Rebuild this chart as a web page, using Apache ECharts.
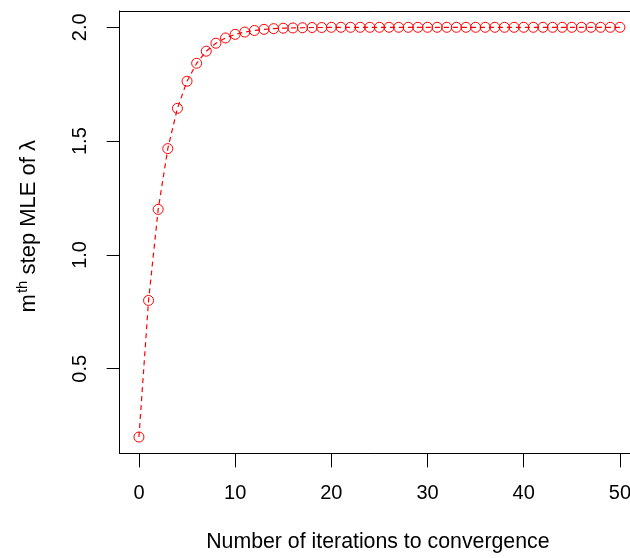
<!DOCTYPE html>
<html>
<head>
<meta charset="utf-8">
<script src="https://cdn.jsdelivr.net/npm/echarts@6/dist/echarts.min.js"></script>
<style>
  html, body { margin: 0; padding: 0; background: #fff; }
  #chart { width: 630px; height: 558px; }
</style>
</head>
<body>
<div id="chart"></div>
<script>
// iteration number m and the m-th step estimate of lambda
const iterations = [
  0, 1, 2, 3, 4, 5, 6, 7, 8, 9, 10, 11, 12, 13, 14, 15, 16, 17, 18, 19, 20,
  21, 22, 23, 24, 25, 26, 27, 28, 29, 30, 31, 32, 33, 34, 35, 36, 37, 38, 39, 40,
  41, 42, 43, 44, 45, 46, 47, 48, 49, 50
];
const estimates = [
  0.200, 0.800, 1.200, 1.467, 1.644, 1.763, 1.842, 1.895, 1.930, 1.953, 1.969,
  1.979, 1.986, 1.991, 1.994, 1.996, 1.997, 1.998, 1.999, 1.999, 2.000,
  2.000, 2.000, 2.000, 2.000, 2.000, 2.000, 2.000, 2.000, 2.000, 2.000,
  2.000, 2.000, 2.000, 2.000, 2.000, 2.000, 2.000, 2.000, 2.000, 2.000,
  2.000, 2.000, 2.000, 2.000, 2.000, 2.000, 2.000, 2.000, 2.000, 2.000
];
const xTicks = [0, 10, 20, 30, 40, 50];
const yTicks = [0.5, 1.0, 1.5, 2.0];

const font = 'Liberation Sans, Arial, Helvetica, sans-serif';
const chart = echarts.init(document.getElementById('chart'), null, { renderer: 'canvas' });

const points = iterations.map((m, i) => [m, estimates[i]]);
const black = { color: '#000', width: 1 };

chart.setOption({
  animation: false,
  backgroundColor: '#fff',
  // the plot box runs past the right edge of the picture, so only three sides show
  grid: {
    left: 119.7,
    top: 10.9,
    width: 510.3,
    height: 442.5,
    show: false,
    outerBoundsMode: 'none',
    containLabel: false
  },
  xAxis: [{
    type: 'value',
    min: -2,
    max: 51.05,
    name: 'Number of iterations to convergence',
    nameLocation: 'middle',
    nameGap: 78,
    nameTextStyle: { fontFamily: font, fontSize: 21.3, color: '#000', padding: [0, 0, 0, 6] },
    axisLine: { show: true, onZero: false, lineStyle: black },
    splitLine: { show: false },
    axisTick: {
      show: true,
      inside: false,
      length: 14,
      customValues: xTicks,
      lineStyle: black
    },
    axisLabel: {
      customValues: xTicks,
      margin: 30,
      fontFamily: font,
      fontSize: 20,
      color: '#000',
      hideOverlap: false
    }
  }, {
    type: 'value',
    position: 'top',
    min: -2,
    max: 51.05,
    axisLine: { show: true, onZero: false, lineStyle: black },
    axisTick: { show: false },
    axisLabel: { show: false },
    splitLine: { show: false }
  }],
  yAxis: {
    type: 'value',
    min: 0.128,
    max: 2.072,
    name: '{m|m}{sup|th}{t| step MLE of λ}',
    nameLocation: 'middle',
    nameGap: 78,
    nameTextStyle: {
      fontFamily: font,
      fontSize: 22,
      color: '#000',
      padding: [0, 0, 0, 12],
      rich: {
        m: { fontFamily: font, fontSize: 22, color: '#000', lineHeight: 26 },
        sup: { fontFamily: font, fontSize: 15, color: '#000', verticalAlign: 'top', lineHeight: 26, padding: [0, 0, 9, 1] },
        t: { fontFamily: font, fontSize: 22, color: '#000', lineHeight: 26 }
      }
    },
    axisLine: { show: true, onZero: false, lineStyle: black },
    splitLine: { show: false },
    axisTick: {
      show: true,
      inside: false,
      length: 13,
      customValues: yTicks,
      lineStyle: black
    },
    axisLabel: {
      customValues: yTicks,
      rotate: 90,
      margin: 29,
      fontFamily: font,
      fontSize: 20,
      color: '#000',
      formatter: v => v.toFixed(1)
    }
  },
  series: [{
    type: 'line',
    xAxisIndex: 0,
    data: points,
    symbol: 'circle',
    symbolSize: 10,
    showSymbol: true,
    lineStyle: { color: '#ff0000', width: 1.2, type: [5, 4] },
    itemStyle: { color: 'rgba(255,255,255,0)', borderColor: '#ff0000', borderWidth: 1 },
    clip: false
  }]
});
</script>
</body>
</html>
